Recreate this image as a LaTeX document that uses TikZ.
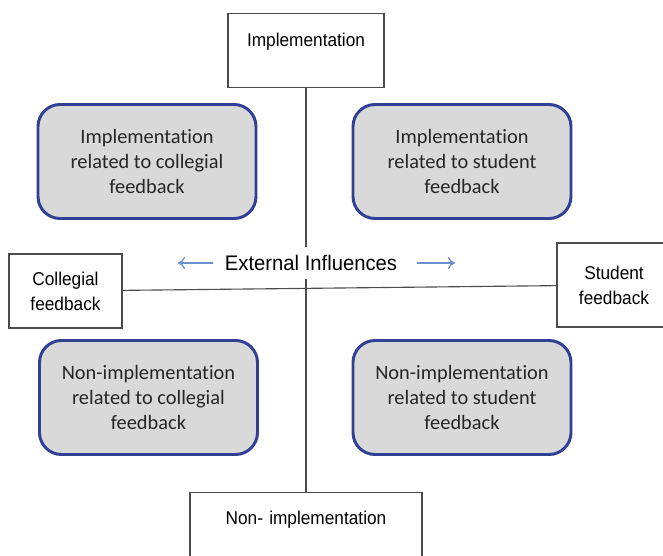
\documentclass[tikz,border=0pt]{standalone}
\usepackage{fontspec}
\setmainfont{Liberation Sans}
\newfontfamily\boxfont[FakeStretch=0.93]{Liberation Sans}
\newfontfamily\extfont[FakeStretch=0.96]{Liberation Sans}
\newfontfamily\calibri[Ligatures=NoCommon]{Carlito}
\usetikzlibrary{arrows.meta}
\definecolor{quadline}{RGB}{48,64,148}
\definecolor{quadfill}{RGB}{217,217,217}
\definecolor{inflblue}{RGB}{105,145,205}
\definecolor{axisgray}{RGB}{75,75,75}
\tikzset{
    axisbox/.style={rectangle, draw=axisgray, line width=0.9pt, fill=white,
    	inner sep=0pt, align=center, font=\boxfont\fontsize{13.2}{17.8}\selectfont}
}
\tikzset{
    quadrant/.style={rectangle, rounded corners=0.55cm, draw=quadline,
    	line width=2.1pt, fill=quadfill, minimum width=5.45cm,
    	minimum height=2.85cm, align=center, text=black!85,
    	font=\calibri\fontsize{14.5}{17.8}\selectfont}
}
\tikzset{
    axis/.style={draw=axisgray, line width=0.8pt},
    infl/.style={draw=inflblue, line width=0.9pt, -{To[length=5pt,width=8.5pt]}}
}
\pgfdeclarelayer{background}
\pgfsetlayers{background,main}

\begin{document}
\begin{tikzpicture}
	\useasboundingbox (0,0) rectangle (16.575cm, 13.875cm);

	\node (impl) [axisbox, anchor=north, text width=3.9cm, text height=0.81cm,
		text depth=1.04cm] at ( 7.65cm, 13.55cm) {Implementation};
	\node (nonimpl) [axisbox, anchor=north, text width=5.8cm, text height=0.79cm,
		text depth=1.2cm] at ( 7.65cm,  1.575cm) {Non- implementation};
	\node (colleg) [axisbox, minimum width=2.825cm, minimum height=1.85cm]
		at ( 1.6375cm, 6.6cm) {Collegial\\feedback};
	\node (student) [axisbox, minimum width=2.85cm, minimum height=2.1cm]
		at (15.35cm,  6.75cm) {Student\\feedback};

	\node (implcol) [quadrant] at ( 3.675cm, 9.8375cm)
		{Implementation\\related to collegial\\feedback};
	\node (implstu) [quadrant] at (11.55cm,  9.8375cm)
		{Implementation\\related to student\\feedback};
	\node (nonimplcol) [quadrant] at ( 3.7125cm, 3.9375cm)
		{Non-implementation\\related to collegial\\feedback};
	\node (nonimplstu) [quadrant] at (11.55cm,  3.9375cm)
		{Non-implementation\\related to student\\feedback};

	\node (ext) [fill=white, inner xsep=0.3cm, inner ysep=0.2cm,
		font=\extfont\fontsize{15}{17}\selectfont] at ( 7.775cm, 7.3cm) {External Influences};
	\coordinate (lefttip) at ( 4.45cm, 7.3cm);
	\coordinate (righttip) at (11.375cm, 7.3cm);

	\draw [infl] (ext.west) -- (lefttip);
	\draw [infl, shorten <=0.2cm] (ext.east) -- (righttip);

	\begin{pgfonlayer}{background}
		\draw [axis] (impl) -- (nonimpl);
		\draw [axis] (colleg) -- (student);
	\end{pgfonlayer}
\end{tikzpicture}
\end{document}
